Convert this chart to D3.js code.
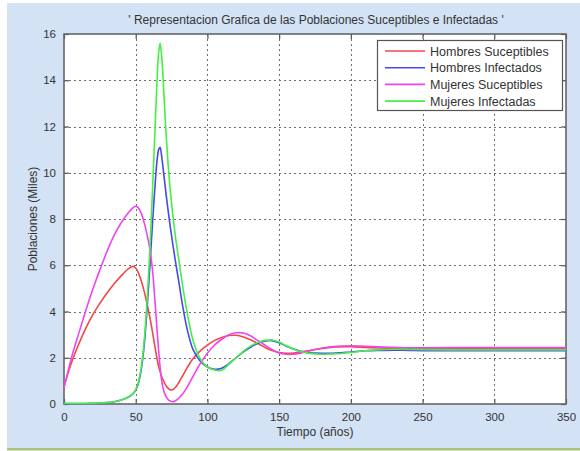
<!DOCTYPE html>
<html>
<head>
<meta charset="utf-8">
<script src="https://cdn.jsdelivr.net/npm/d3@7"></script>
<style>
  html, body { margin: 0; padding: 0; background: #ffffff; }
  svg { display: block; font-family: "Liberation Sans", Arial, sans-serif; }
</style>
</head>
<body>
<svg id="chart" width="580" height="451"></svg>
<script>
// Tiempo (años) sampled more densely around the epidemic peak
const tiempo = [0,5,10,15,20,25,30,35,40,45,48,50,52,54,56,58,60,62,64,65,66,67,68,69,70,72,74,76,78,80,83,86,90,95,100,105,110,115,120,125,130,135,140,145,150,155,160,165,170,180,190,200,210,220,230,240,250,270,300,330,350];

const hombresSuceptibles = [0.75,1.75,2.55,3.25,3.85,4.35,4.8,5.2,5.55,5.85,5.95,5.88,5.65,5.3,4.85,4.3,3.7,3.0,2.25,1.92,1.62,1.4,1.2,1.05,0.92,0.72,0.62,0.63,0.74,0.92,1.25,1.58,1.97,2.3,2.55,2.75,2.88,2.96,2.97,2.9,2.78,2.62,2.45,2.31,2.23,2.19,2.2,2.25,2.3,2.4,2.47,2.48,2.45,2.42,2.4,2.39,2.39,2.4,2.4,2.4,2.4];

const hombresInfectados = [0.02,0.02,0.02,0.02,0.03,0.04,0.06,0.1,0.17,0.3,0.44,0.6,0.92,1.55,2.6,4.2,6.1,8.1,9.9,10.6,11.0,11.1,10.75,10.25,9.7,8.65,7.7,6.85,6.05,5.3,4.15,3.2,2.35,1.85,1.6,1.5,1.55,1.75,2.0,2.25,2.45,2.62,2.72,2.74,2.65,2.5,2.38,2.28,2.22,2.19,2.2,2.25,2.3,2.32,2.33,2.32,2.31,2.3,2.3,2.3,2.3];

const mujeresSuceptibles = [0.7,1.95,3.0,4.0,4.95,5.8,6.6,7.3,7.85,8.28,8.48,8.55,8.47,8.22,7.82,7.3,6.65,5.6,3.95,3.1,2.3,1.6,1.05,0.72,0.48,0.24,0.13,0.1,0.15,0.25,0.45,0.75,1.2,1.75,2.2,2.55,2.8,3.0,3.08,3.07,2.95,2.75,2.55,2.36,2.21,2.15,2.15,2.2,2.28,2.42,2.5,2.52,2.5,2.47,2.45,2.43,2.43,2.44,2.44,2.44,2.44];

const mujeresInfectadas = [0.02,0.02,0.02,0.02,0.03,0.04,0.06,0.1,0.17,0.3,0.44,0.62,0.97,1.65,2.8,4.5,6.8,9.7,12.7,14.2,15.2,15.6,15.1,14.2,13.0,10.9,9.3,8.1,7.1,6.25,5.0,3.9,2.75,1.95,1.6,1.47,1.46,1.72,2.0,2.28,2.5,2.66,2.75,2.77,2.68,2.52,2.38,2.27,2.2,2.15,2.17,2.23,2.3,2.35,2.37,2.36,2.35,2.34,2.34,2.34,2.34];

const seriesNames = ["Hombres Suceptibles", "Hombres Infectados", "Mujeres Suceptibles", "Mujeres Infectadas"];
const seriesColors = ["#f04848", "#4848f0", "#f044f0", "#44f044"];
const xTicks = [0,50,100,150,200,250,300,350];
const yTicks = [0,2,4,6,8,10,12,14,16];

const titleText = "' Representacion Grafica de las Poblaciones Suceptibles e Infectadas '";
const xLabel = "Tiempo (años)";
const yLabel = "Poblaciones (Miles)";

const svg = d3.select("#chart");
const W = 580, H = 451;
const plot = { left: 64, top: 34, right: 566, bottom: 404 };

// Figure background
svg.append("rect").attr("x", 7).attr("y", 3).attr("width", W - 7).attr("height", 445)
  .attr("fill", "#d4e2f5");
svg.append("rect").attr("x", 7).attr("y", 448).attr("width", W - 7).attr("height", 2.5)
  .attr("fill", "#a6c47e");

const x = d3.scaleLinear().domain([0, 350]).range([plot.left, plot.right]);
const y = d3.scaleLinear().domain([0, 16]).range([plot.bottom, plot.top]);

// Axes area
svg.append("rect")
  .attr("x", plot.left).attr("y", plot.top)
  .attr("width", plot.right - plot.left).attr("height", plot.bottom - plot.top)
  .attr("fill", "#ffffff");

// Dotted grid
const grid = svg.append("g").attr("stroke", "#555").attr("stroke-width", 1)
  .attr("stroke-dasharray", "2,3").attr("opacity", 0.85);
xTicks.slice(1, -1).forEach(t => {
  grid.append("line").attr("x1", Math.round(x(t)) + 0.5).attr("x2", Math.round(x(t)) + 0.5)
    .attr("y1", plot.top).attr("y2", plot.bottom);
});
yTicks.slice(1, -1).forEach(t => {
  grid.append("line").attr("y1", Math.round(y(t)) + 0.5).attr("y2", Math.round(y(t)) + 0.5)
    .attr("x1", plot.left).attr("x2", plot.right);
});

// Axes with inward ticks (box on all four sides)
const fontSize = "11.5px";
const xAxisB = d3.axisBottom(x).tickValues(xTicks).tickSizeInner(-5).tickSizeOuter(0).tickPadding(9);
const xAxisT = d3.axisTop(x).tickValues(xTicks).tickSizeInner(-5).tickSizeOuter(0).tickFormat("");
const yAxisL = d3.axisLeft(y).tickValues(yTicks).tickSizeInner(-5).tickSizeOuter(0).tickPadding(8);
const yAxisR = d3.axisRight(y).tickValues(yTicks).tickSizeInner(-5).tickSizeOuter(0).tickFormat("");

function styleAxis(g) {
  g.select(".domain").remove();
  g.selectAll(".tick line").attr("stroke", "#555").attr("stroke-width", 1.2);
  g.selectAll(".tick text").attr("fill", "#333").style("font-size", fontSize)
    .style("font-family", "'Liberation Sans', Arial, sans-serif");
}
svg.append("g").attr("transform", `translate(0,${plot.bottom})`).call(xAxisB).call(styleAxis);
svg.append("g").attr("transform", `translate(0,${plot.top})`).call(xAxisT).call(styleAxis);
svg.append("g").attr("transform", `translate(${plot.left},0)`).call(yAxisL).call(styleAxis);
svg.append("g").attr("transform", `translate(${plot.right},0)`).call(yAxisR).call(styleAxis);

// Frame
svg.append("rect")
  .attr("x", plot.left).attr("y", plot.top)
  .attr("width", plot.right - plot.left).attr("height", plot.bottom - plot.top)
  .attr("fill", "none").attr("stroke", "#666").attr("stroke-width", 1.6);

// Curves, drawn over the frame so the near-zero stretch stays visible
const allSeries = [hombresSuceptibles, hombresInfectados, mujeresSuceptibles, mujeresInfectadas];
const line = d3.line()
  .x((d, i) => x(tiempo[i]))
  .y(d => y(d))
  .curve(d3.curveCatmullRom.alpha(0.5));
const curves = svg.append("g");
allSeries.forEach((s, k) => {
  curves.append("path").datum(s)
    .attr("d", line)
    .attr("fill", "none")
    .attr("stroke", seriesColors[k])
    .attr("stroke-width", 1.6)
    .attr("stroke-linejoin", "round");
});

// Title and labels
svg.append("text").attr("x", 316).attr("y", 24).attr("text-anchor", "middle")
  .attr("fill", "#333").style("font-size", "12px").text(titleText);
svg.append("text").attr("x", 315).attr("y", 436).attr("text-anchor", "middle")
  .attr("fill", "#333").style("font-size", "12px").text(xLabel);
svg.append("text").attr("transform", "translate(37,219) rotate(-90)").attr("text-anchor", "middle")
  .attr("fill", "#333").style("font-size", "12px").text(yLabel);

// Legend
const lg = svg.append("g");
lg.append("rect").attr("x", 377.5).attr("y", 40.5).attr("width", 185).attr("height", 70)
  .attr("fill", "#ffffff").attr("stroke", "#555").attr("stroke-width", 1.2);
seriesNames.forEach((name, k) => {
  const yy = 51 + k * 16.7;
  lg.append("line").attr("x1", 385).attr("x2", 425).attr("y1", yy).attr("y2", yy)
    .attr("stroke", seriesColors[k]).attr("stroke-width", 1.6);
  lg.append("text").attr("x", 430).attr("y", yy + 4.5).attr("fill", "#333")
    .style("font-size", "12.5px").text(name);
});
</script>
</body>
</html>
